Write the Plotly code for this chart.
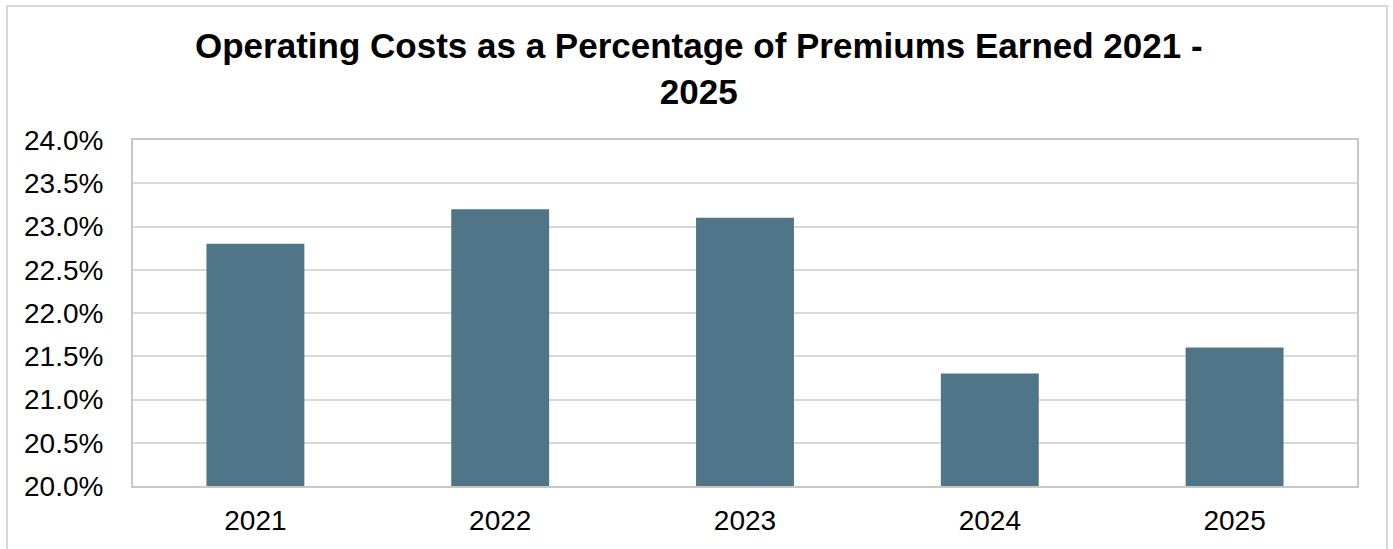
import plotly.graph_objects as go

years = ["2021", "2022", "2023", "2024", "2025"]
cost_pct = [22.8, 23.2, 23.1, 21.3, 21.6]
y_ticks = [20.0, 20.5, 21.0, 21.5, 22.0, 22.5, 23.0, 23.5, 24.0]
y_tick_text = [f"{v:.1f}%" for v in y_ticks]
title_text = "<b>Operating Costs as a Percentage of Premiums Earned 2021 -<br>2025</b>"

W, H = 1393, 549
ml, mr, mt, mb = 133, 36, 140, 63
pw, ph = W - ml - mr, H - mt - mb

def px_x(px):
    return (px - ml) / pw

def px_y(py):
    return (H - mb - py) / ph

fig = go.Figure(
    go.Bar(x=years, y=cost_pct, marker=dict(color="#507589", line=dict(width=0)),
           hoverinfo="skip")
)

# outer chart border
fig.add_shape(
    type="rect", xref="paper", yref="paper",
    x0=px_x(7), x1=px_x(1387), y0=px_y(570), y1=px_y(6),
    line=dict(color="#D9D9D9", width=2), fillcolor="rgba(0,0,0,0)", layer="below",
)

# chart title
fig.add_annotation(
    text=title_text, xref="paper", yref="paper",
    x=px_x(699), y=px_y(24), xanchor="center", yanchor="top",
    showarrow=False, align="center",
    font=dict(size=35, family="Liberation Sans, Arial, sans-serif", color="black"),
)

fig.update_layout(
    width=W, height=H,
    margin=dict(l=ml, r=mr, t=mt, b=mb, autoexpand=False),
    paper_bgcolor="white", plot_bgcolor="white",
    font=dict(family="Liberation Sans, Arial, sans-serif", color="black", size=28),
    bargap=0.6,
    showlegend=False,
)

fig.update_xaxes(
    showgrid=False, showline=True, linecolor="#C8C8C8", linewidth=2, mirror=True,
    ticks="", tickfont=dict(size=28), ticklabelstandoff=8,
)
fig.update_yaxes(
    range=[20, 24], tickmode="array", tickvals=y_ticks, ticktext=y_tick_text,
    showgrid=True, gridcolor="#D9D9D9", gridwidth=2,
    showline=True, linecolor="#C8C8C8", linewidth=2, mirror=True,
    ticks="", tickfont=dict(size=28), ticklabelstandoff=22, zeroline=False,
)

fig.write_html(
    "out.html",
    config={"displayModeBar": False},
    post_script="document.body.style.margin='0px';",
)
